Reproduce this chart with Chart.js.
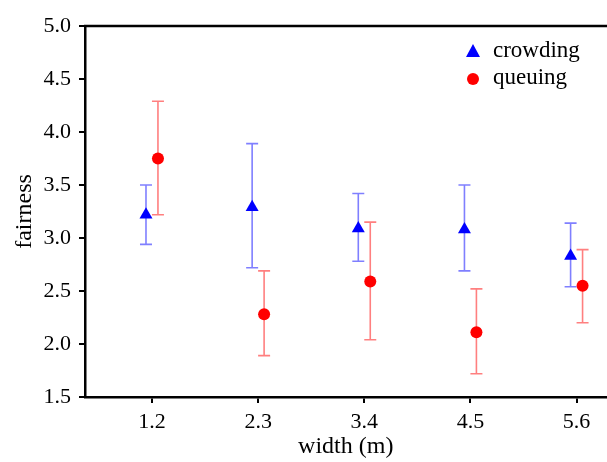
<!DOCTYPE html>
<html>
<head>
<meta charset="utf-8">
<script src="https://cdn.jsdelivr.net/npm/chart.js@4"></script>
<style>
  html, body { margin: 0; padding: 0; background: #fff; overflow: hidden; }
  /* a little wider than the window: the plot frame runs off the right edge */
  #wrap { width: 614px; height: 462px; }
</style>
</head>
<body>
<div id="wrap"><canvas id="chart"></canvas></div>
<script>
// corridor widths (m)
const widths = [1.2, 2.3, 3.4, 4.5, 5.6];

// crowding: mean fairness and error bar ends
const crowdingMean = [3.22, 3.29, 3.09, 3.08, 2.83];
const crowdingHigh = [3.50, 3.89, 3.42, 3.50, 3.14];
const crowdingLow  = [2.94, 2.72, 2.78, 2.69, 2.54];

// queuing
const queuingMean = [3.75, 2.28, 2.59, 2.11, 2.55];
const queuingHigh = [4.29, 2.69, 3.15, 2.52, 2.89];
const queuingLow  = [3.22, 1.89, 2.04, 1.72, 2.20];

const yTicks = [1.5, 2.0, 2.5, 3.0, 3.5, 4.0, 4.5, 5.0];

const shift = 0.062; // side-by-side offset of the two series

const serif = "'Liberation Serif', 'DejaVu Serif', serif";

function points(mean, lo, hi, dx) {
    return widths.map((w, i) => ({ x: w + dx, y: mean[i], lo: lo[i], hi: hi[i] }));
}

// error bars with caps, drawn under the markers
const errorBars = {
    id: "errorBars",
    beforeDatasetsDraw(chart) {
        const { ctx, scales: { x, y } } = chart;
        ctx.save();
        chart.data.datasets.forEach((ds) => {
            ctx.strokeStyle = ds.barColor;
            ctx.lineWidth = 1.6;
            ds.data.forEach((p) => {
                const px = x.getPixelForValue(p.x);
                const top = y.getPixelForValue(p.hi);
                const bot = y.getPixelForValue(p.lo);
                ctx.beginPath();
                ctx.moveTo(px, top);
                ctx.lineTo(px, bot);
                ctx.moveTo(px - 6, top);
                ctx.lineTo(px + 6, top);
                ctx.moveTo(px - 6, bot);
                ctx.lineTo(px + 6, bot);
                ctx.stroke();
            });
        });
        ctx.restore();
    },
    afterDraw(chart) {
        const { ctx, chartArea } = chart;
        ctx.save();
        // top frame line
        ctx.strokeStyle = "#000";
        ctx.lineWidth = 2.5;
        ctx.beginPath();
        ctx.moveTo(chartArea.left - 1, chartArea.top);
        ctx.lineTo(chart.width, chartArea.top);
        ctx.stroke();

        // legend inside the plot
        ctx.fillStyle = "#0000ff";
        ctx.beginPath();
        ctx.moveTo(473, 44);
        ctx.lineTo(480, 57);
        ctx.lineTo(466, 57);
        ctx.closePath();
        ctx.fill();
        ctx.fillStyle = "#ff0000";
        ctx.beginPath();
        ctx.arc(473, 79, 6, 0, Math.PI * 2);
        ctx.fill();
        ctx.fillStyle = "#000";
        ctx.font = "23px " + serif;
        ctx.textBaseline = "middle";
        ctx.fillText("crowding", 493, 51);
        ctx.fillText("queuing", 493, 78);
        ctx.restore();
    }
};

new Chart(document.getElementById("chart"), {
    type: "scatter",
    data: {
        datasets: [
            {
                label: "crowding",
                data: points(crowdingMean, crowdingLow, crowdingHigh, -shift),
                pointStyle: "triangle",
                pointRadius: 7.5,
                pointHoverRadius: 7.5,
                backgroundColor: "#0000ff",
                borderColor: "#0000ff",
                borderWidth: 0,
                barColor: "rgba(0, 0, 255, 0.5)",
            },
            {
                label: "queuing",
                data: points(queuingMean, queuingLow, queuingHigh, shift),
                pointStyle: "circle",
                pointRadius: 6,
                pointHoverRadius: 6,
                backgroundColor: "#ff0000",
                borderColor: "#ff0000",
                borderWidth: 0,
                barColor: "rgba(255, 0, 0, 0.5)",
            },
        ],
    },
    options: {
        responsive: true,
        maintainAspectRatio: false,
        animation: false,
        layout: { padding: { top: 26, right: 0, left: 0, bottom: 0 } },
        plugins: {
            legend: { display: false },
            tooltip: { enabled: false },
        },
        scales: {
            x: {
                type: "linear",
                min: 0.506,
                max: 5.91,
                afterBuildTicks: (scale) => {
                    scale.ticks = widths.map((v) => ({ value: v }));
                },
                afterFit: (scale) => { scale.height = 65; },
                border: { color: "#000", width: 2.5 },
                grid: { drawOnChartArea: false, color: "#000", lineWidth: 2, tickLength: 6 },
                ticks: {
                    color: "#000",
                    font: { family: serif, size: 22 },
                    padding: 6,
                    maxRotation: 0,
                    callback: (v) => v.toFixed(1),
                },
                title: {
                    display: true,
                    text: "width (m)",
                    color: "#000",
                    font: { family: serif, size: 24 },
                    padding: { top: 0, bottom: 1 },
                },
            },
            y: {
                min: 1.5,
                max: 5.0,
                afterBuildTicks: (scale) => {
                    scale.ticks = yTicks.map((v) => ({ value: v }));
                },
                afterFit: (scale) => { scale.width = 85; },
                border: { color: "#000", width: 2.5 },
                grid: { drawOnChartArea: false, color: "#000", lineWidth: 2, tickLength: 6 },
                ticks: {
                    color: "#000",
                    font: { family: serif, size: 22 },
                    padding: 8,
                    callback: (v) => v.toFixed(1),
                },
                title: {
                    display: true,
                    text: "fairness",
                    color: "#000",
                    font: { family: serif, size: 24 },
                    padding: { top: 10, bottom: 0 },
                },
            },
        },
    },
    plugins: [errorBars],
});
</script>
</body>
</html>
